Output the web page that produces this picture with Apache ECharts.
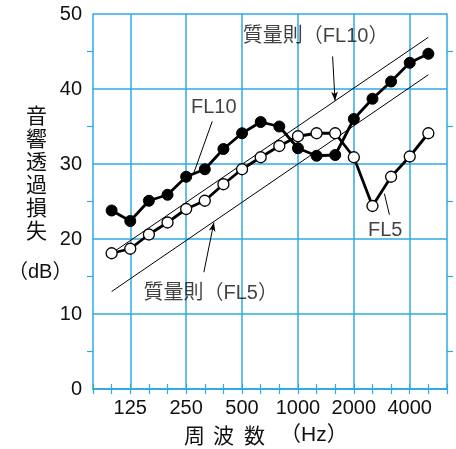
<!DOCTYPE html>
<html>
<head>
<meta charset="utf-8">
<script src="https://cdn.jsdelivr.net/npm/echarts@6/dist/echarts.min.js"></script>
<style>html,body{margin:0;padding:0;background:#fff}#c{width:456px;height:449px}</style>
</head>
<body>
<div id="c"></div>
<script>
// 1/3-octave band categories (first and last only pad the axis)
const categories = ['80','100','125','160','200','250','315','400','500','630','800','1000','1250','1600','2000','2500','3150','4000','5000','6300'];
const tickLabels = ['125','250','500','1000','2000','4000'];
const bands = ['100','125','160','200','250','315','400','500','630','800','1000','1250','1600','2000','2500','3150','4000','5000'];
const fl10 = [23.8, 22.4, 25.1, 25.9, 28.3, 29.3, 32.0, 34.1, 35.6, 35.0, 32.1, 31.1, 31.2, 36.0, 38.7, 41.0, 43.5, 44.7];
const fl5  = [18.1, 18.7, 20.6, 22.2, 24.0, 25.1, 27.3, 29.3, 30.9, 32.4, 33.7, 34.1, 34.1, 30.9, 24.4, 28.3, 31.0, 34.1];
// mass-law lines: [band position, dB] (band position = index in categories)
const massFL10 = [[1, 18.1], [18, 46.9]];
const massFL5  = [[1, 13.0], [18, 41.9]];
// annotation texts & anchors (band position, dB)
const notes = [
  {text: '質量則（FL10）', at: [11.95, 47.0]},
  {text: 'FL10', at: [6.48, 37.6]},
  {text: 'FL5', at: [15.68, 21.2]},
  {text: '質量則（FL5）', at: [6.32, 12.8]}
];
const pointers = [
  {from: [12.86, 44.35], to: [12.99, 38.44], arrow: true},
  {from: [6.40, 35.68], to: [5.41, 28.8], arrow: false},
  {from: [15.91, 23.24], to: [15.64, 26.04], arrow: false},
  {from: [5.95, 15.57], to: [6.49, 22.21], arrow: true}
];

const GRID = '#2eaae2';
const LAT = '"Liberation Sans", Arial, sans-serif';
const MIX = '"Liberation Sans", "Noto Sans CJK JP", sans-serif';
const CJK = '"Noto Sans CJK JP", "Liberation Sans", sans-serif';
const chart = echarts.init(document.getElementById('c'), null, {renderer: 'canvas'});

const xBase = {
  type: 'category', data: categories, boundaryGap: false,
  axisLine: {show: true, lineStyle: {color: GRID, width: 1.5}},
  axisTick: {show: true, inside: true, length: 5, interval: 0, lineStyle: {color: GRID, width: 1.2}},
  splitLine: {show: false}
};
const yBase = {
  type: 'value', min: 0, max: 50, interval: 10,
  axisLine: {show: true, lineStyle: {color: GRID, width: 1.5}},
  axisTick: {show: false},
  minorTick: {show: true, splitNumber: 2, length: 6, lineStyle: {color: GRID, width: 1.2}},
  splitLine: {show: false}
};

chart.setOption({
  animation: false,
  backgroundColor: '#fff',
  grid: {left: 93, right: 9, top: 14, bottom: 60, containLabel: false, outerBoundsMode: 'none'},
  xAxis: [
    Object.assign({}, xBase, {
      position: 'bottom',
      axisLabel: {show: true, interval: (i, v) => tickLabels.includes(v), margin: 9,
        color: '#111', fontFamily: LAT, fontSize: 20},
      splitLine: {show: true, interval: (i, v) => tickLabels.includes(v), lineStyle: {color: GRID, width: 1.5}}
    }),
    Object.assign({}, xBase, {position: 'top', axisLabel: {show: false}}),
    // hidden continuous axis spanning the same band positions, for lines & notes
    {type: 'value', min: 0, max: categories.length - 1, show: false, position: 'bottom'}
  ],
  yAxis: [
    Object.assign({}, yBase, {
      position: 'left',
      axisLabel: {show: true, margin: 11, color: '#111', fontFamily: LAT, fontSize: 20},
      splitLine: {show: true, lineStyle: {color: GRID, width: 1.5}}
    }),
    Object.assign({}, yBase, {position: 'right', axisLabel: {show: false}})
  ],
  graphic: [
    {type: 'text', left: 26, top: 104, style: {text: '音\n響\n透\n過\n損\n失', font: '21px ' + CJK, lineHeight: 23, fill: '#111'}},
    {type: 'text', left: 8, top: 262, style: {text: '（dB）', font: '20px ' + MIX, fill: '#111'}},
    {type: 'text', left: 184, top: 425, style: {text: '周', font: '21px ' + CJK, fill: '#111'}},
    {type: 'text', left: 213, top: 425, style: {text: '波', font: '21px ' + CJK, fill: '#111'}},
    {type: 'text', left: 244, top: 425, style: {text: '数', font: '21px ' + CJK, fill: '#111'}},
    {type: 'text', left: 280, top: 425, style: {text: '（Hz）', font: '21px ' + MIX, fill: '#111'}}
  ],
  series: [
    {type: 'line', name: 'massFL10', xAxisIndex: 2, data: massFL10, symbol: 'none', silent: true,
      lineStyle: {color: '#000', width: 1}, z: 2},
    {type: 'line', name: 'massFL5', xAxisIndex: 2, data: massFL5, symbol: 'none', silent: true,
      lineStyle: {color: '#000', width: 1}, z: 2},
    {type: 'line', name: 'FL5', data: bands.map((b, i) => [b, fl5[i]]),
      symbol: 'circle', symbolSize: 11,
      lineStyle: {color: '#000', width: 2.8},
      itemStyle: {color: '#fff', borderColor: '#000', borderWidth: 1.3}, z: 4},
    {type: 'line', name: 'FL10', data: bands.map((b, i) => [b, fl10[i]]),
      symbol: 'circle', symbolSize: 11,
      lineStyle: {color: '#000', width: 2.8},
      itemStyle: {color: '#000', borderColor: '#000', borderWidth: 1}, z: 5},
    {type: 'scatter', name: 'notes', xAxisIndex: 2, symbolSize: 0, silent: true, z: 6,
      data: notes.map(n => ({value: n.at, label: {formatter: n.text}})),
      label: {show: true, position: 'inside', color: '#111', fontSize: 20,
        fontFamily: MIX},
      markLine: {
        silent: true, animation: false,
        lineStyle: {color: '#000', width: 1, type: 'solid'},
        label: {show: false},
        emphasis: {disabled: true},
        data: pointers.map(p => [
          {coord: p.from, symbol: 'none'},
          {coord: p.to, symbol: p.arrow ? 'arrow' : 'none', symbolSize: [5, 9]}
        ])
      }
    }
  ]
});
</script>
</body>
</html>
